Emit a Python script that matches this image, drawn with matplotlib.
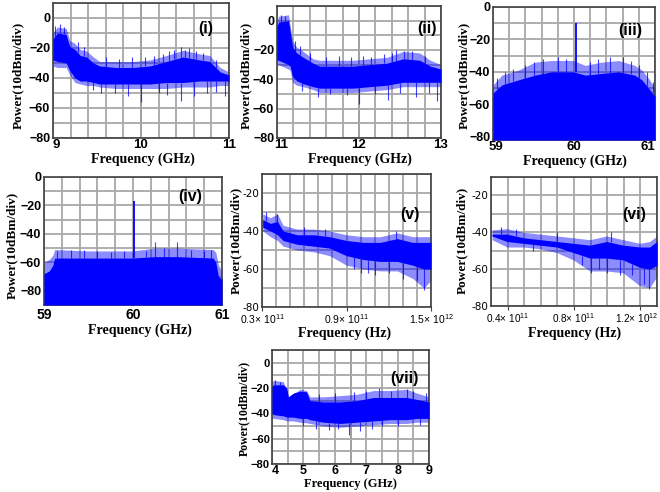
import numpy as np
import matplotlib
matplotlib.use("Agg")
import matplotlib.pyplot as plt
import matplotlib.transforms as mtransforms

BLUE = "#0000ff"
SERIF = "Liberation Serif"
SANS = "Liberation Sans"

# ---------------- data ----------------
# panel (i)
f1 = [9.0, 9.05, 9.15, 9.19, 9.25, 9.31, 9.38, 9.46, 9.53, 9.72, 9.91, 10.10, 10.29, 10.48, 10.67, 10.78, 10.90, 11.0]
tip_hi1 = [-10, -6, -7, -15, -17, -21, -22, -26, -29, -29, -29, -28, -25, -21.5, -24, -25, -33, -36]
core_hi1 = [-14, -10, -11, -19, -21, -25, -26, -30, -32, -33, -33, -32, -29, -26, -28, -29, -36, -38]
core_lo1 = [-28, -29, -30, -35, -40, -42, -42, -43, -44, -44, -44, -44, -43, -43, -42, -42, -42, -42]
tip_lo1 = [-32, -33, -33, -38, -43, -44, -45, -45, -46, -47, -47, -47, -47, -46, -46, -46, -45, -45]
spk_x1 = [9.55, 9.85, 10.0, 10.45, 10.6, 10.95, 9.45, 9.7, 10.2, 10.3, 10.75, 10.85,
          10.38, 10.45, 10.55, 9.9, 10.15, 9.02, 9.08, 9.12, 9.28, 9.35, 9.6, 9.75, 10.05, 10.25,
          10.32, 10.5, 10.62, 10.7, 10.85]
spk_y1 = [-50, -52, -56, -55, -52, -52, -48, -50, -50, -51, -50, -49,
          -21, -19, -20, -26, -25, -5, -4, -6, -16, -19, -26, -27, -26, -24,
          -22, -21, -22, -23, -28]

# panel (ii)
f2 = [11.0, 11.02, 11.14, 11.16, 11.19, 11.24, 11.32, 11.44, 11.52, 11.93, 12.13, 12.34, 12.54, 12.74, 12.87, 13.0]
tip_hi2 = [0, 3, 4, -3, -14, -18, -21, -26, -27, -27, -26, -25, -21, -22, -27, -30]
core_hi2 = [-4, -1, 0, -7, -18, -22, -25, -29, -31, -31, -30, -29, -26, -27, -31, -33]
core_lo2 = [-27, -27, -30, -31, -38, -41, -43, -45, -46, -46, -45, -44, -42, -42, -42, -42]
tip_lo2 = [-30, -30, -33, -34, -42, -44, -45, -47, -49, -49, -48, -47, -45, -45, -45, -45]
spk_x2 = [11.5, 12.0, 12.35, 12.7, 12.95, 11.3, 11.65, 11.85, 12.2, 12.5, 12.85,
          12.45, 12.55, 11.75, 12.15, 11.05, 11.1, 11.22, 11.28, 11.4, 11.6, 11.9, 12.05,
          12.3, 12.4, 12.65, 12.8]
spk_y2 = [-52, -57, -54, -52, -55, -48, -50, -51, -50, -49, -49,
          -20, -21, -24, -25, 4, 3, -14, -17, -22, -25, -25, -24,
          -23, -22, -21, -24]

# panel (iii)
f3 = [59.0, 59.11, 59.31, 59.52, 59.72, 59.99, 60.14, 60.34, 60.55, 60.75, 60.84, 60.92, 61.0]
tip_hi3 = [-48, -42, -39, -34, -33, -33, -36, -34, -33, -36, -39, -44, -50]
core_hi3 = [-53, -48, -45, -42, -40, -40, -42, -41, -40, -42, -45, -50, -55]
floor3 = [-82] * 13
peak3_x = [60.02]
peak3_y = [-10]
spk_x3 = [59.05, 59.15, 59.25, 59.4, 59.5, 59.62, 59.8, 59.9, 60.2, 60.3, 60.45, 60.6, 60.7, 60.8, 60.9, 60.97]
spk_y3 = [-44, -40, -38, -36, -34, -32, -31, -32, -34, -32, -31, -31, -33, -36, -40, -46]

# panel (iv)
f4 = [59.0, 59.06, 59.1, 59.12, 59.5, 59.99, 60.25, 60.5, 60.9, 60.93, 60.96, 61.0]
tip_hi4 = [-60, -58, -55, -51, -52, -52, -50, -50, -51, -53, -62, -66]
core_hi4 = [-68, -66, -62, -57, -57, -57, -56, -56, -57, -60, -70, -72]
floor4 = [-90] * 12
peak4_x = [60.01]
peak4_y = [-17]
spk_x4 = [60.25, 60.5, 59.15, 59.3, 59.45, 59.6, 59.75, 59.9, 60.15, 60.35, 60.65, 60.8, 60.88]
spk_y4 = [-46, -46, -52, -51, -51, -52, -53, -52, -52, -50, -51, -52, -51]

# panel (v)
f5 = [0.305, 0.36, 0.41, 0.45, 0.55, 0.67, 0.78, 0.90, 1.02, 1.14, 1.26, 1.37, 1.45, 1.5]
tip_hi5 = [-31, -33, -31, -37, -39, -39, -40, -42, -43, -43, -41, -43, -43, -43]
core_hi5 = [-34, -36, -35, -40, -42, -42, -43, -45, -46, -46, -44, -46, -46, -46]
core_lo5 = [-38, -40, -42, -45, -47, -48, -49, -53, -55, -56, -56, -58, -60, -60]
tip_lo5 = [-40, -43, -45, -48, -50, -51, -53, -58, -60, -61, -61, -65, -70, -66]
spk_x5 = [1.0, 1.1, 1.3, 1.45, 0.95, 1.05, 1.2, 1.4, 0.41, 0.33, 0.6, 0.75, 1.25]
spk_y5 = [-62, -63, -65, -71, -60, -62, -62, -66, -31, -30, -38, -39, -40]

# panel (vi)
f6 = [0.306, 0.396, 0.496, 0.596, 0.696, 0.796, 0.896, 0.996, 1.096, 1.196, 1.256, 1.3]
tip_hi6 = [-38.7, -38, -40, -41, -42, -43, -44, -42, -44, -46, -45, -42]
core_hi6 = [-41, -41, -43, -44, -45, -46, -47, -45, -47, -48, -48, -45]
core_lo6 = [-42, -45, -46, -47, -48, -51, -54, -54, -55, -59, -60, -58]
tip_lo6 = [-44, -48, -48, -49, -51, -55, -61, -61, -62, -69, -70, -64]
spk_x6 = [0.55, 0.9, 1.0, 1.08, 1.25, 0.85, 0.95, 1.15, 1.22, 0.36, 0.45, 0.7, 1.02]
spk_y6 = [-50, -62, -62, -63, -71, -58, -60, -63, -68, -37, -38, -40, -40]

# panel (vii)
f7 = [4.0, 4.04, 4.36, 4.47, 4.52, 4.68, 4.89, 5.10, 5.21, 5.63, 6.17, 6.70, 7.23, 7.76, 8.29, 8.61, 9.0]
tip_hi7 = [-16, -14, -15, -22, -27, -25, -21, -22, -27, -27, -26, -25, -22, -22, -21, -24, -27]
core_hi7 = [-19, -17.5, -17.5, -20, -27, -24, -22.5, -23, -30, -31, -31, -30, -27.5, -27.5, -27.5, -29, -31]
core_lo7 = [-40, -41, -42, -43, -43, -43, -44, -44, -45, -47, -48, -47, -46, -45, -45, -44, -44]
tip_lo7 = [-44, -44, -45, -46, -46, -46, -47, -47.5, -48, -50, -51, -50, -49, -48, -48, -47, -47]
spk_x7 = [5.4, 6.45, 6.8, 7.2, 5.0, 5.8, 6.1, 7.5, 8.0, 8.7,
          4.1, 7.8, 8.3, 4.25, 5.5, 6.0, 6.6, 7.0, 7.4, 8.5, 8.9]
spk_y7 = [-52, -57, -54, -52, -50, -53, -52, -50, -50, -49,
          -14, -22, -21, -15, -25, -24, -23, -22, -20, -22, -24]

# tick labels
sci_labels5 = [r"0.3$\times$ 10$^{11}$", r"0.9$\times$ 10$^{11}$", r"1.5$\times$ 10$^{12}$"]
sci_ticks5 = [0.3, 0.9, 1.5]
sci_labels6 = [r"0.4$\times$ 10$^{11}$", r"0.8$\times$ 10$^{11}$", r"1.2$\times$ 10$^{12}$"]
sci_ticks6 = [0.4, 0.8, 1.2]

# ---------------- figure ----------------
W, H = 660, 492
fig = plt.figure(figsize=(W / 100, H / 100), dpi=100)
plt.rcParams["mathtext.fontset"] = "custom"
plt.rcParams["mathtext.rm"] = SANS
plt.rcParams["mathtext.it"] = SANS


def make_ax(x0, y0, x1, y1):
    return fig.add_axes([x0 / W, 1 - y1 / H, (x1 - x0) / W, (y1 - y0) / H])


def style(ax, xlim, ylim, xminor, yminor, mid=None):
    ax.set_xlim(*xlim)
    ax.set_ylim(*ylim)
    ax.set_xticks(xminor, minor=True)
    ax.set_yticks(yminor, minor=True)
    ax.grid(which="both", color="#a8a8a8", lw=1.3, zorder=0)
    ax.set_axisbelow(True)
    if mid is not None:
        ax.axvline(mid, color="#505050", lw=1.3, zorder=0.5)
    ax.tick_params(which="both", length=0, pad=2)
    for s in ax.spines.values():
        s.set_color("#404040")
        s.set_linewidth(1.2)


def bold_ticks(ax, xs=9.5, ys=9):
    for lab in ax.get_xticklabels():
        lab.set_fontfamily(SANS)
        lab.set_fontweight("bold")
        lab.set_fontsize(xs)
    for lab in ax.get_yticklabels():
        lab.set_fontfamily(SANS)
        lab.set_fontweight("bold")
        lab.set_fontsize(ys)


def labels(ax, xlabel, ylx, yly, xlx, xly, panel, px, py, ylsize=9.5, xlsize=10):
    fig.text(ylx / W, 1 - yly / H, "Power(10dBm/div)", rotation=90, ha="center", va="center",
             family=SERIF, weight="bold", fontsize=ylsize)
    fig.text(xlx / W, 1 - xly / H, xlabel, ha="center", va="center",
             family=SERIF, weight="bold", fontsize=xlsize)
    fig.text(px / W, 1 - py / H, panel, ha="center", va="center",
             family=SANS, weight="bold", fontsize=11.5)


def body(ax, f, tlo, thi, clo, chi):
    ax.fill_between(f, tlo, thi, color=BLUE, alpha=0.45, lw=0, zorder=2)
    ax.fill_between(f, clo, chi, color=BLUE, lw=0, zorder=3)


def spikes(ax, xs, ys, f, clo, chi):
    for x, y in zip(xs, ys):
        base = np.interp(x, f, chi) if y > np.interp(x, f, chi) else np.interp(x, f, clo)
        ax.vlines(x, min(base, y), max(base, y), color=BLUE, lw=0.8, alpha=0.75, zorder=3)


def shift_label(lab, dx):
    lab.set_transform(lab.get_transform() + mtransforms.ScaledTranslation(dx / 100, 0, fig.dpi_scale_trans))


# (i)
ax = make_ax(53, 3, 229, 138)
style(ax, (9, 11), (-80, 10), np.arange(9, 11.01, 0.2), np.arange(-80, 10.1, 10), mid=10)
body(ax, f1, tip_lo1, tip_hi1, core_lo1, core_hi1)
spikes(ax, spk_x1, spk_y1, f1, core_lo1, core_hi1)
ax.set_xticks([9, 10, 11])
ax.set_yticks([0, -20, -40, -60, -80])
bold_ticks(ax)
ax.tick_params(axis="x", pad=1)
shift_label(ax.get_xticklabels()[0], 3)
labels(ax, "Frequency (GHz)", 18, 75, 143, 159, "(i)", 206, 28)

# (ii)
ax = make_ax(277, 6, 441, 138)
style(ax, (11, 13), (-80, 10), np.arange(11, 13.01, 0.2), np.arange(-80, 10.1, 10), mid=12)
body(ax, f2, tip_lo2, tip_hi2, core_lo2, core_hi2)
spikes(ax, spk_x2, spk_y2, f2, core_lo2, core_hi2)
ax.set_xticks([11, 12, 13])
ax.set_yticks([0, -20, -40, -60, -80])
bold_ticks(ax)
ax.tick_params(axis="x", pad=1)
shift_label(ax.get_xticklabels()[0], 4)
labels(ax, "Frequency (GHz)", 246, 75, 360, 159, "(ii)", 427, 28)

# (iii)
ax = make_ax(493, 7, 655, 140)
style(ax, (59, 61), (-82, 0), np.arange(59, 61.01, 0.2), np.arange(-80, 0.1, 10))
body(ax, f3, floor3, tip_hi3, floor3, core_hi3)
spikes(ax, spk_x3, spk_y3, f3, floor3, core_hi3)
ax.vlines(peak3_x, -40, peak3_y, color=BLUE, lw=1.3, zorder=4)
ax.set_xticks([59, 60, 61])
ax.set_yticks([0, -20, -40, -60, -80])
bold_ticks(ax)
ax.tick_params(axis="x", pad=1)
ax.get_xticklabels()[-1].set_horizontalalignment("right")
shift_label(ax.get_xticklabels()[0], 3)
labels(ax, "Frequency (GHz)", 464, 75, 575, 161, "(iii)", 630, 30)

# (iv)
ax = make_ax(44, 177, 222, 305)
style(ax, (59, 61), (-90, 0), np.arange(59, 61.01, 0.2), np.arange(-90, 0.1, 10))
body(ax, f4, floor4, tip_hi4, floor4, core_hi4)
ax.vlines(peak4_x, -57, peak4_y, color=BLUE, lw=1.3, zorder=4)
spikes(ax, spk_x4, spk_y4, f4, floor4, core_hi4)
ax.set_xticks([59, 60, 61])
ax.set_yticks([0, -20, -40, -60, -80])
bold_ticks(ax, xs=10)
labels(ax, "Frequency (GHz)", 12, 245, 140, 330, "(iv)", 190, 197)

# (v)
ax = make_ax(262, 174, 431, 307)
style(ax, (0.3, 1.5), (-80, -10), np.arange(0.3, 1.501, 0.1), np.arange(-80, -9.9, 10))
body(ax, f5, tip_lo5, tip_hi5, core_lo5, core_hi5)
spikes(ax, spk_x5, spk_y5, f5, core_lo5, core_hi5)
ax.set_xticks(sci_ticks5)
ax.set_xticklabels(sci_labels5, fontsize=7.5, family=SANS)
ax.set_yticks([-20, -40, -60, -80])
ax.set_yticklabels(["-20", "-40", "-60", "-80"], fontsize=7.5, family="DejaVu Sans")
ax.tick_params(axis="x", length=3, color="#404040", pad=1)
labels(ax, "Frequency (Hz)", 236, 240, 345, 333, "(v)", 410, 215)

# (vi)
ax = make_ax(491, 177, 657, 306)
style(ax, (0.3, 1.3), (-80, -10), np.arange(0.3, 1.301, 0.1), np.arange(-80, -9.9, 10))
body(ax, f6, tip_lo6, tip_hi6, core_lo6, core_hi6)
spikes(ax, spk_x6, spk_y6, f6, core_lo6, core_hi6)
ax.set_xticks(sci_ticks6)
ax.set_xticklabels(sci_labels6, fontsize=7.2, family=SANS)
ax.set_yticks([-20, -40, -60, -80])
ax.set_yticklabels(["-20", "-40", "-60", "-80"], fontsize=7.5, family="DejaVu Sans")
ax.tick_params(axis="x", length=3, color="#404040", pad=1)
shift_label(ax.get_xticklabels()[-1], -4)
labels(ax, "Frequency (Hz)", 462, 240, 575, 333, "(vi)", 634, 215)

# (vii)
ax = make_ax(272, 350, 429, 464)
style(ax, (4, 9), (-80, 10), np.arange(4, 9.01, 0.5), np.arange(-80, 10.1, 10), mid=6.5)
body(ax, f7, tip_lo7, tip_hi7, core_lo7, core_hi7)
spikes(ax, spk_x7, spk_y7, f7, core_lo7, core_hi7)
ax.set_xticks([4, 5, 6, 7, 8, 9])
ax.set_yticks([0, -20, -40, -60, -80])
bold_ticks(ax, xs=9, ys=8)
ax.tick_params(axis="x", pad=1)
ax.tick_params(axis="y", pad=1.5)
shift_label(ax.get_xticklabels()[0], 3)
labels(ax, "Frequency (GHz)", 244, 408, 350, 484, "(vii)", 404, 378, ylsize=8.5, xlsize=9)

fig.savefig("out.png", dpi=100)
